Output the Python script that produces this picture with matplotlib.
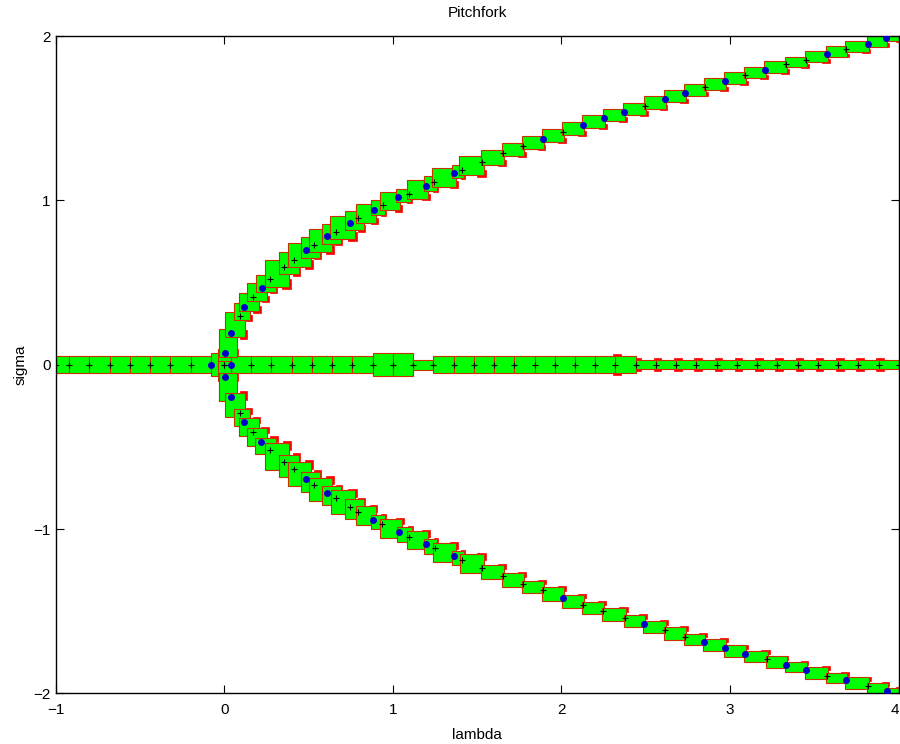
"""Pitchfork bifurcation: continuation enclosures (boxes) along the three branches."""

import matplotlib

matplotlib.use("Agg")
import matplotlib.pyplot as plt
from matplotlib.patches import Rectangle

# middle branch (sigma = 0), continuation nodes
MID_LAMBDA = [-1.0, -0.92, -0.80, -0.68, -0.56, -0.44, -0.32, -0.20, -0.08, 0.04,
              0.16, 0.28, 0.40, 0.52, 0.64, 0.76, 0.88, 1.00, 1.12, 1.24, 1.36,
              1.48, 1.60, 1.72, 1.84, 1.96, 2.08, 2.20, 2.32, 2.44, 2.56, 2.68,
              2.80, 2.92, 3.04, 3.16, 3.28, 3.40, 3.52, 3.64, 3.76, 3.88, 4.00]
MID_SIGMA = 0.0

# upper branch nodes
UP_LAMBDA = [0.0, 0.006, 0.040, 0.091, 0.120, 0.172, 0.221, 0.271, 0.354, 0.411,
             0.485, 0.535, 0.609, 0.660, 0.747, 0.796, 0.887, 0.940, 1.031, 1.095,
             1.196, 1.245, 1.363, 1.409, 1.527, 1.656, 1.774, 1.889, 2.008, 2.130,
             2.252, 2.372, 2.496, 2.612, 2.731, 2.850, 2.970, 3.091, 3.207, 3.331,
             3.452, 3.575, 3.690, 3.815, 3.926, 4.0]
UP_SIGMA = [0.0, 0.070, 0.192, 0.296, 0.350, 0.412, 0.469, 0.520, 0.594, 0.639,
            0.695, 0.730, 0.781, 0.810, 0.862, 0.893, 0.943, 0.971, 1.020, 1.040,
            1.090, 1.114, 1.165, 1.185, 1.236, 1.287, 1.331, 1.374, 1.418, 1.460,
            1.501, 1.538, 1.576, 1.615, 1.655, 1.688, 1.724, 1.762, 1.794, 1.829,
            1.857, 1.893, 1.921, 1.954, 1.985, 2.0]

# lower branch nodes
LOW_LAMBDA = [0.0, 0.006, 0.040, 0.091, 0.120, 0.170, 0.219, 0.273, 0.356, 0.411,
              0.486, 0.535, 0.609, 0.662, 0.747, 0.796, 0.885, 0.938, 1.039, 1.097,
              1.196, 1.250, 1.363, 1.410, 1.527, 1.656, 1.774, 1.893, 2.008, 2.130,
              2.248, 2.377, 2.490, 2.614, 2.733, 2.847, 2.970, 3.088, 3.217, 3.330,
              3.448, 3.576, 3.687, 3.819, 3.928, 4.0]
LOW_SIGMA = [0.0, -0.073, -0.195, -0.296, -0.351, -0.411, -0.469, -0.519, -0.594, -0.637,
             -0.696, -0.732, -0.783, -0.809, -0.864, -0.895, -0.945, -0.970, -1.020, -1.047,
             -1.091, -1.118, -1.167, -1.187, -1.236, -1.287, -1.332, -1.370, -1.418, -1.461,
             -1.501, -1.542, -1.578, -1.615, -1.655, -1.686, -1.726, -1.761, -1.793, -1.826,
             -1.855, -1.892, -1.921, -1.955, -1.984, -2.0]

# points marked with a blue dot
BLUE_LAMBDA = [-0.08, 0.04,
               0.006, 0.040, 0.120, 0.221, 0.485, 0.609, 0.747, 0.887, 1.031, 1.196,
               1.363, 1.889, 2.130, 2.252, 2.372, 2.612, 2.731, 2.970, 3.207, 3.575,
               3.815, 3.926,
               0.006, 0.040, 0.120, 0.219, 0.486, 0.609, 0.885, 1.039, 1.196, 1.363,
               2.008, 2.490, 2.847, 2.970, 3.088, 3.330, 3.448, 3.687, 3.928]
BLUE_SIGMA = [0.0, 0.0,
              0.070, 0.192, 0.350, 0.469, 0.695, 0.781, 0.862, 0.943, 1.020, 1.090,
              1.165, 1.374, 1.460, 1.501, 1.538, 1.615, 1.655, 1.724, 1.794, 1.893,
              1.954, 1.985,
              -0.073, -0.195, -0.351, -0.469, -0.696, -0.783, -0.945, -1.020, -1.091, -1.167,
              -1.418, -1.578, -1.686, -1.726, -1.761, -1.826, -1.855, -1.921, -1.984]

GREEN = "#00ff00"
RED = "#ff0000"
EDGE = "#c83200"


def branch_pad(lam):
    """Box margin (lambda, sigma) for a curved branch segment."""
    if lam < 0.3:
        return 0.035, 0.025
    if lam < 0.8:
        return 0.03, 0.045
    if lam < 1.5:
        return 0.014, 0.032
    return 0.006, 0.018


def mid_pad(lam):
    """Half height of a middle branch box."""
    if -0.1 < lam < 0.1:
        return 0.07
    if 0.85 < lam < 1.1:
        return 0.07
    if 1.1 < lam < 1.24:
        return 0.03
    if lam > 2.4:
        return 0.027
    return 0.05


def draw_branch(ax, lam, sig, side):
    boxes = []
    for k in range(len(lam) - 1):
        mid = 0.5 * (lam[k] + lam[k + 1])
        px, py = branch_pad(mid)
        x0 = min(lam[k], lam[k + 1]) - px
        y0 = min(sig[k], sig[k + 1]) - py
        w = abs(lam[k + 1] - lam[k]) + 2 * px
        h = abs(sig[k + 1] - sig[k]) + 2 * py
        boxes.append((x0, y0, w, h))
    # small red corner pieces peeking out from under the green boxes
    for x0, y0, w, h in boxes:
        rx = x0 + 0.72 * w
        ry = y0 - 0.07 * h if side > 0 else y0 + 0.71 * h
        ax.add_patch(Rectangle((rx, ry), 0.36 * w, 0.36 * h, facecolor=RED,
                               edgecolor=RED, linewidth=0.5, zorder=1))
    for x0, y0, w, h in boxes:
        ax.add_patch(Rectangle((x0, y0), w, h, facecolor=GREEN,
                               edgecolor=EDGE, linewidth=0.8, zorder=2))


def draw_middle(ax, lam):
    boxes = []
    for k in range(len(lam) - 1):
        mid = 0.5 * (lam[k] + lam[k + 1])
        h = mid_pad(mid)
        boxes.append((lam[k], MID_SIGMA - h, lam[k + 1] - lam[k], 2 * h))
    for x0, y0, w, h in boxes:
        if x0 > 2.3:
            ax.add_patch(Rectangle((x0 - 0.012, y0 - 0.014), 0.045, h + 0.028, facecolor=RED,
                                   edgecolor=RED, linewidth=0.5, zorder=1))
    for x0, y0, w, h in boxes:
        ax.add_patch(Rectangle((x0, y0), w, h, facecolor=GREEN,
                               edgecolor=EDGE, linewidth=0.8, zorder=2))


def main():
    plt.rcParams["font.family"] = ["Liberation Sans", "DejaVu Sans"]
    fig = plt.figure(figsize=(9, 7.44), dpi=100)
    ax = fig.add_axes([0.0618, 0.0681, 0.9368, 0.8835])

    draw_middle(ax, MID_LAMBDA)
    draw_branch(ax, UP_LAMBDA, UP_SIGMA, 1)
    draw_branch(ax, LOW_LAMBDA, LOW_SIGMA, -1)

    ax.plot(MID_LAMBDA, [MID_SIGMA] * len(MID_LAMBDA), "k+", markersize=5,
            markeredgewidth=0.8, zorder=3)
    ax.plot(UP_LAMBDA, UP_SIGMA, "k+", markersize=5, markeredgewidth=0.8, zorder=3)
    ax.plot(LOW_LAMBDA, LOW_SIGMA, "k+", markersize=5, markeredgewidth=0.8, zorder=3)
    ax.plot(BLUE_LAMBDA, BLUE_SIGMA, "o", color="#0000cc", markersize=5,
            markeredgewidth=0, zorder=4)

    ax.set_xlim(-1, 4)
    ax.set_ylim(-2, 2)
    ax.set_xticks([-1, 0, 1, 2, 3, 4])
    ax.set_yticks([-2, -1, 0, 1, 2])
    ax.tick_params(direction="in", top=True, right=True, labelsize=11, length=6)
    ax.tick_params(axis="x", pad=7)
    ax.get_xticklabels()[-1].set_horizontalalignment("right")
    ax.set_title("Pitchfork", fontsize=11, pad=14)
    ax.set_xlabel("lambda", fontsize=11, labelpad=8)
    ax.set_ylabel("sigma", fontsize=11, labelpad=4)
    for spine in ax.spines.values():
        spine.set_linewidth(1.0)

    fig.savefig("out.png", dpi=100)


if __name__ == "__main__":
    main()
